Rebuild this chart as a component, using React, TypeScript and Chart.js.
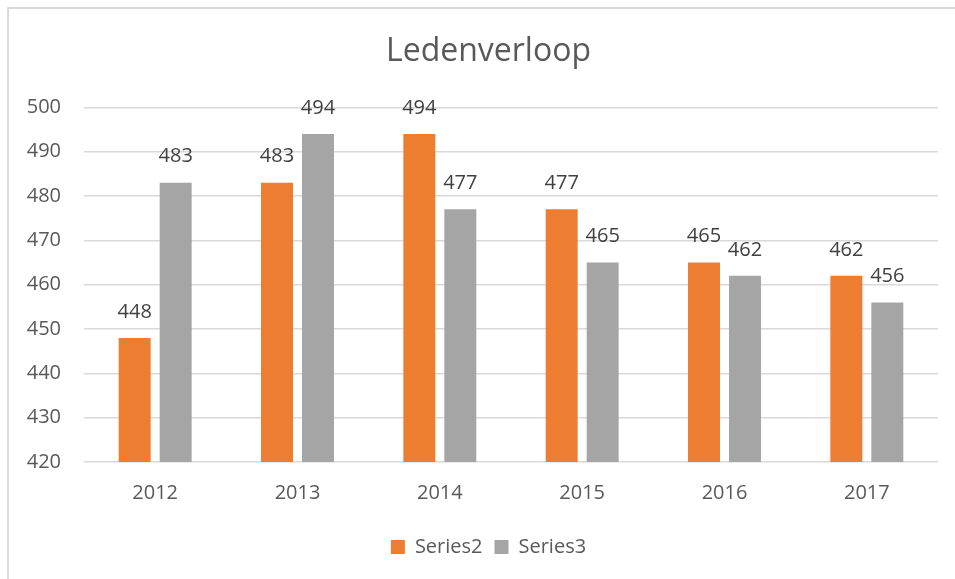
import React, { useEffect, useRef } from "react";
import { Chart, registerables } from "chart.js";

Chart.register(...registerables);

const categories = ["2012", "2013", "2014", "2015", "2016", "2017"];
const series2 = [448, 483, 494, 477, 465, 462];
const series3 = [483, 494, 477, 465, 462, 456];
const yTicks = [420, 430, 440, 450, 460, 470, 480, 490, 500];

const FONT = "'Open Sans', 'Liberation Sans', sans-serif";

const dataLabels = {
  id: "dataLabels",
  afterDatasetsDraw(chart: any) {
    const ctx = chart.ctx;
    ctx.save();
    ctx.font = `20px ${FONT}`;
    ctx.fillStyle = "#404040";
    ctx.textAlign = "center";
    ctx.textBaseline = "middle";
    chart.data.datasets.forEach((ds: any, di: number) => {
      const meta = chart.getDatasetMeta(di);
      meta.data.forEach((bar: any, i: number) => {
        ctx.fillText(String(ds.data[i]), bar.x, bar.y - 26);
      });
    });
    ctx.restore();
  },
};

export default function App() {
  const ref = useRef<HTMLCanvasElement>(null);
  useEffect(() => {
    if (!ref.current) return;
    const chart = new Chart(ref.current, {
      type: "bar",
      data: {
        labels: categories,
        datasets: [
          { label: "Series2", data: series2, backgroundColor: "#ED7D31", categoryPercentage: 0.576, barPercentage: 0.78 },
          { label: "Series3", data: series3, backgroundColor: "#A5A5A5", categoryPercentage: 0.576, barPercentage: 0.78 },
        ],
      },
      options: {
        responsive: false,
        animation: false,
        layout: { padding: { left: 0, right: 0, top: 0, bottom: 12 } },
        scales: {
          x: {
            grid: { display: false },
            border: { display: false },
            ticks: { color: "#595959", font: { family: FONT, size: 20 }, padding: 11 },
            afterFit: (scale: any) => {
              scale.height = scale.height + 9;
            },
          },
          y: {
            min: 420,
            max: 500,
            afterBuildTicks: (scale: any) => {
              scale.ticks = yTicks.map((v) => ({ value: v }));
            },
            afterFit: (scale: any) => {
              scale.width = 84;
            },
            grid: { color: "#d9d9d9", lineWidth: 1.5, drawTicks: false },
            border: { display: false },
            ticks: { color: "#595959", font: { family: FONT, size: 20 }, padding: 23 },
          },
          yRight: {
            position: "right",
            min: 420,
            max: 500,
            display: true,
            grid: { display: false, drawTicks: false },
            border: { display: false },
            ticks: { display: false },
            afterFit: (scale: any) => {
              scale.width = 39;
            },
          },
        },
        plugins: {
          title: {
            display: true,
            text: "Ledenverloop",
            color: "#595959",
            font: { family: FONT, size: 32, weight: "normal" },
            padding: { top: 33, bottom: 36 },
          },
          legend: {
            position: "bottom",
            labels: {
              color: "#595959",
              font: { family: FONT, size: 20 },
              boxWidth: 14,
              boxHeight: 14,
              padding: 12,
            },
          },
          tooltip: { enabled: false },
        },
      },
      plugins: [dataLabels],
    });
    return () => chart.destroy();
  }, []);

  return (
    <div style={{ position: "absolute", left: 0, top: 0, width: 955, height: 579, overflow: "hidden", background: "#fff" }}>
      <canvas ref={ref} width={977} height={579} style={{ position: "absolute", left: 0, top: 0, width: 977, height: 579 }} />
      <div
        style={{
          position: "absolute",
          left: 7,
          top: 7,
          width: 950,
          height: 574,
          border: "2px solid #d9d9d9",
          boxSizing: "border-box",
          pointerEvents: "none",
        }}
      />
    </div>
  );
}
